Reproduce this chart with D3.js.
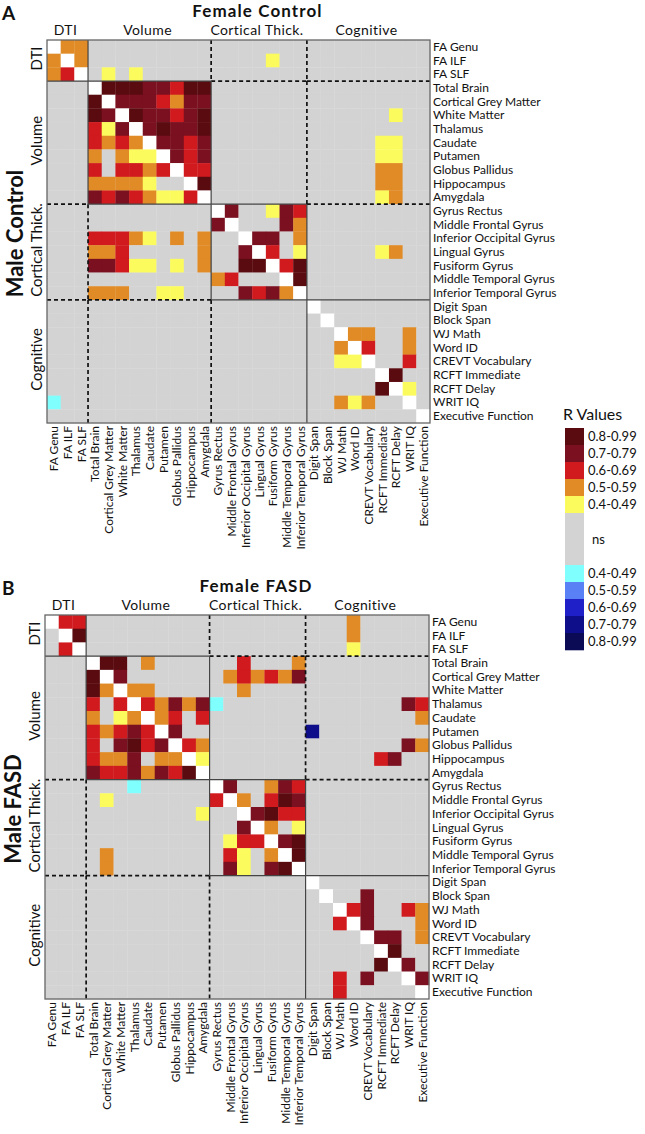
<!DOCTYPE html>
<html><head><meta charset="utf-8">
<script src="https://cdn.jsdelivr.net/npm/d3@7"></script>
<style>body{margin:0;background:#fff}text{font-family:Lato,"Open Sans",sans-serif;fill:#111}</style>
</head><body><svg id="c" width="645" height="1134"></svg>
<script>
const variables = ["FA Genu","FA ILF","FA SLF","Total Brain","Cortical Grey Matter","White Matter","Thalamus","Caudate","Putamen","Globus Pallidus","Hippocampus","Amygdala","Gyrus Rectus","Middle Frontal Gyrus","Inferior Occipital Gyrus","Lingual Gyrus","Fusiform Gyrus","Middle Temporal Gyrus","Inferior Temporal Gyrus","Digit Span","Block Span","WJ Math","Word ID","CREVT Vocabulary","RCFT Immediate","RCFT Delay","WRIT IQ","Executive Function"];
const groups = ["DTI","Volume","Cortical Thick.","Cognitive"];
const groupStarts = [0,3,12,19,28];
// codes: 9 = diagonal, 5..1 = positive R bins, 0 = ns, -1..-5 = negative R bins
const legendCodes = [5,4,3,2,1,0,-1,-2,-3,-4,-5];
const legendLabels = ["0.8-0.99","0.7-0.79","0.6-0.69","0.5-0.59","0.4-0.49","ns","0.4-0.49","0.5-0.59","0.6-0.69","0.7-0.79","0.8-0.99"];
// Panel A: upper triangle Female Control, lower triangle Male Control
const controlMatrix = [
[9,2,2,0,0,0,0,0,0,0,0,0,0,0,0,0,0,0,0,0,0,0,0,0,0,0,0,0],
[2,9,2,0,0,0,0,0,0,0,0,0,0,0,0,0,1,0,0,0,0,0,0,0,0,0,0,0],
[2,3,9,0,1,0,1,0,0,0,0,0,0,0,0,0,0,0,0,0,0,0,0,0,0,0,0,0],
[0,0,0,9,5,5,5,4,4,3,5,5,0,0,0,0,0,0,0,0,0,0,0,0,0,0,0,0],
[0,0,0,5,9,4,4,4,3,2,4,4,0,0,0,0,0,0,0,0,0,0,0,0,0,0,0,0],
[0,0,0,5,4,9,5,4,4,3,4,5,0,0,0,0,0,0,0,0,0,0,0,0,0,1,0,0],
[0,0,0,3,1,4,9,4,5,4,4,5,0,0,0,0,0,0,0,0,0,0,0,0,0,0,0,0],
[0,0,0,3,2,3,2,9,4,4,3,4,0,0,0,0,0,0,0,0,0,0,0,0,1,1,0,0],
[0,0,0,2,0,2,1,1,9,4,3,4,0,0,0,0,0,0,0,0,0,0,0,0,1,1,0,0],
[0,0,0,3,0,3,3,2,3,9,3,3,0,0,0,0,0,0,0,0,0,0,0,0,2,2,0,0],
[0,0,0,2,2,2,2,1,0,0,9,5,0,0,0,0,0,0,0,0,0,0,0,0,2,2,0,0],
[0,0,0,4,3,4,3,2,1,1,3,9,0,0,0,0,0,0,0,0,0,0,0,0,1,2,0,0],
[0,0,0,0,0,0,0,0,0,0,0,0,9,4,0,0,1,4,3,0,0,0,0,0,0,0,0,0],
[0,0,0,0,0,0,0,0,0,0,0,0,4,9,0,0,0,4,2,0,0,0,0,0,0,0,0,0],
[0,0,0,3,3,3,2,1,0,2,0,2,0,0,9,4,4,0,2,0,0,0,0,0,0,0,0,0],
[0,0,0,2,2,3,0,0,0,0,0,2,0,0,4,9,3,0,1,0,0,0,0,0,1,2,0,0],
[0,0,0,4,4,3,1,1,0,1,0,2,0,0,5,5,9,3,5,0,0,0,0,0,0,0,0,0],
[0,0,0,0,0,0,0,0,0,0,0,0,2,3,0,0,0,9,5,0,0,0,0,0,0,0,0,0],
[0,0,0,2,2,2,0,0,1,1,0,0,0,0,4,3,4,2,9,0,0,0,0,0,0,0,0,0],
[0,0,0,0,0,0,0,0,0,0,0,0,0,0,0,0,0,0,0,9,0,0,0,0,0,0,0,0],
[0,0,0,0,0,0,0,0,0,0,0,0,0,0,0,0,0,0,0,0,9,0,0,0,0,0,0,0],
[0,0,0,0,0,0,0,0,0,0,0,0,0,0,0,0,0,0,0,0,0,9,2,2,0,0,2,0],
[0,0,0,0,0,0,0,0,0,0,0,0,0,0,0,0,0,0,0,0,0,2,9,3,0,0,2,0],
[0,0,0,0,0,0,0,0,0,0,0,0,0,0,0,0,0,0,0,0,0,1,1,9,0,0,3,0],
[0,0,0,0,0,0,0,0,0,0,0,0,0,0,0,0,0,0,0,0,0,0,0,0,9,5,0,0],
[0,0,0,0,0,0,0,0,0,0,0,0,0,0,0,0,0,0,0,0,0,0,0,0,5,9,1,0],
[-1,0,0,0,0,0,0,0,0,0,0,0,0,0,0,0,0,0,0,0,0,2,1,2,0,0,9,0],
[0,0,0,0,0,0,0,0,0,0,0,0,0,0,0,0,0,0,0,0,0,0,0,0,0,0,0,9]
];
// Panel B: upper triangle Female FASD, lower triangle Male FASD
const fasdMatrix = [
[9,3,3,0,0,0,0,0,0,0,0,0,0,0,0,0,0,0,0,0,0,0,2,0,0,0,0,0],
[0,9,5,0,0,0,0,0,0,0,0,0,0,0,0,0,0,0,0,0,0,0,2,0,0,0,0,0],
[0,3,9,0,0,0,0,0,0,0,0,0,0,0,0,0,0,0,0,0,0,0,1,0,0,0,0,0],
[0,0,0,9,5,5,0,2,0,0,0,0,0,0,3,0,0,0,2,0,0,0,0,0,0,0,0,0],
[0,0,0,5,9,4,0,0,0,0,0,0,0,2,3,2,3,2,4,0,0,0,0,0,0,0,0,0],
[0,0,0,5,2,9,2,2,0,0,0,0,0,0,2,0,0,0,0,0,0,0,0,0,0,0,0,0],
[0,0,0,3,0,3,9,3,2,4,2,4,-1,0,0,0,0,0,0,0,0,0,0,0,0,0,4,3],
[0,0,0,2,0,1,2,9,2,3,0,3,0,0,0,0,0,0,0,0,0,0,0,0,0,0,0,2],
[0,0,0,3,2,3,4,3,9,4,0,0,0,0,0,0,0,0,0,-4,0,0,0,0,0,0,0,0],
[0,0,0,3,0,4,5,3,4,9,3,2,0,0,0,0,0,0,0,0,0,0,0,0,0,0,4,2],
[0,0,0,3,2,2,4,0,2,2,9,1,0,0,0,0,0,0,0,0,0,0,0,0,3,4,0,0],
[0,0,0,4,3,3,4,2,4,3,5,9,0,0,0,0,0,0,0,0,0,0,0,0,0,0,0,0],
[0,0,0,0,0,0,-1,0,0,0,0,0,9,4,0,0,2,4,3,0,0,0,0,0,0,0,0,0],
[0,0,0,0,1,0,0,0,0,0,0,0,3,9,2,0,3,5,4,0,0,0,0,0,0,0,0,0],
[0,0,0,0,0,0,0,0,0,0,0,1,0,0,9,4,5,3,3,0,0,0,0,0,0,0,0,0],
[0,0,0,0,0,0,0,0,0,0,0,0,0,0,4,9,2,0,1,0,0,0,0,0,0,0,0,0],
[0,0,0,0,0,0,0,0,0,0,0,0,0,1,3,3,9,4,5,0,0,0,0,0,0,0,0,0],
[0,0,0,0,2,0,0,0,0,0,0,0,0,3,1,0,2,9,5,0,0,0,0,0,0,0,0,0],
[0,0,0,0,2,0,0,0,0,0,0,0,0,4,1,0,4,5,9,0,0,0,0,0,0,0,0,0],
[0,0,0,0,0,0,0,0,0,0,0,0,0,0,0,0,0,0,0,9,0,0,0,0,0,0,0,0],
[0,0,0,0,0,0,0,0,0,0,0,0,0,0,0,0,0,0,0,0,9,0,0,4,0,0,0,0],
[0,0,0,0,0,0,0,0,0,0,0,0,0,0,0,0,0,0,0,0,0,9,3,4,0,0,3,2],
[0,0,0,0,0,0,0,0,0,0,0,0,0,0,0,0,0,0,0,0,0,3,9,4,0,0,0,2],
[0,0,0,0,0,0,0,0,0,0,0,0,0,0,0,0,0,0,0,0,0,0,0,9,4,4,0,2],
[0,0,0,0,0,0,0,0,0,0,0,0,0,0,0,0,0,0,0,0,0,0,0,0,9,5,0,0],
[0,0,0,0,0,0,0,0,0,0,0,0,0,0,0,0,0,0,0,0,0,0,0,0,5,9,4,0],
[0,0,0,0,0,0,0,0,0,0,0,0,0,0,0,0,0,0,0,0,0,3,0,4,0,0,9,4],
[0,0,0,0,0,0,0,0,0,0,0,0,0,0,0,0,0,0,0,0,0,3,0,0,0,0,0,9]
];

const color = d3.scaleOrdinal()
  .domain([9,5,4,3,2,1,0,-1,-2,-3,-4,-5])
  .range(["#ffffff","#5a0b10","#7a1020","#d01a1e","#e08b26","#fbfb5e","#d3d3d3","#80ffff","#5a80f5","#2020c8","#0e0e8a","#0a0a55"]);

const svg = d3.select("#c");

function panel(M, o){
  const g = svg.append("g");
  const x = d3.scaleBand().domain(variables).range([o.x0, o.x0+o.size]);
  const y = d3.scaleBand().domain(variables).range([o.y0, o.y0+o.size]);
  const cells = [];
  M.forEach((row,i)=>row.forEach((v,j)=>cells.push({i,j,v})));
  g.selectAll("rect.cell").data(cells).join("rect")
    .attr("x",d=>x(variables[d.j])).attr("y",d=>y(variables[d.i]))
    .attr("width",x.bandwidth()+0.3).attr("height",y.bandwidth()+0.3)
    .attr("fill",d=>color(d.v));
  const edge = k => k<28 ? x(variables[k]) : o.x0+o.size;
  const edgeY = k => k<28 ? y(variables[k]) : o.y0+o.size;
  // block separators
  for(let b=1;b<4;b++){
    for(let j=0;j<4;j++){
      const solid = (j===b-1||j===b);
      g.append("line")
        .attr("x1",edge(groupStarts[j])).attr("x2",edge(groupStarts[j+1]))
        .attr("y1",edgeY(groupStarts[b])).attr("y2",edgeY(groupStarts[b]))
        .attr("stroke",solid?"#444":"#111").attr("stroke-width",solid?1.2:1.7)
        .attr("stroke-dasharray",solid?null:"4,3");
      g.append("line")
        .attr("y1",edgeY(groupStarts[j])).attr("y2",edgeY(groupStarts[j+1]))
        .attr("x1",edge(groupStarts[b])).attr("x2",edge(groupStarts[b]))
        .attr("stroke",solid?"#444":"#111").attr("stroke-width",solid?1.2:1.7)
        .attr("stroke-dasharray",solid?null:"4,3");
    }
  }
  g.append("rect").attr("x",o.x0).attr("y",o.y0).attr("width",o.size).attr("height",o.size)
    .attr("fill","none").attr("stroke","#666").attr("stroke-width",1.3);
  // row labels
  g.selectAll("text.rl").data(variables).join("text")
    .attr("x",o.x0+o.size+3).attr("y",d=>y(d)+y.bandwidth()/2+4)
    .attr("font-size",12).text(d=>d);
  // column labels
  g.selectAll("text.cl").data(variables).join("text")
    .attr("transform",d=>`translate(${x(d)+x.bandwidth()/2+4.5},${o.y0+o.size+3}) rotate(-90)`)
    .attr("text-anchor","end").attr("font-size",12).text(d=>d);
  // group labels
  groups.forEach((gname,k)=>{
    const a = edge(groupStarts[k]), b = edge(groupStarts[k+1]);
    g.append("text").attr("x",(a+b)/2-2).attr("y",o.y0-5).attr("text-anchor","middle")
      .attr("font-size",14).attr("letter-spacing",0.4).text(gname);
    const ya = edgeY(groupStarts[k]), yb = edgeY(groupStarts[k+1]);
    g.append("text").attr("transform",`translate(${o.x0-5},${(ya+yb)/2-2}) rotate(-90)`)
      .attr("text-anchor","middle").attr("font-size",15).text(gname);
  });
  g.append("text").attr("x",o.x0+o.size/2+19).attr("y",o.y0-23).attr("text-anchor","middle")
    .attr("font-size",17).attr("letter-spacing",1.1).attr("font-weight","bold").text(o.title);
  g.append("text").attr("transform",`translate(${o.x0-24},${o.y0+o.size/2+2}) rotate(-90)`)
    .attr("text-anchor","middle").attr("font-size",22).attr("font-weight","bold").text(o.rowTitle);
  g.append("text").attr("x",2).attr("y",o.y0-20).attr("font-size",19).attr("font-weight","bold").text(o.letter);
}

panel(controlMatrix,{x0:47,y0:40,size:383,title:"Female Control",rowTitle:"Male Control",letter:"A"});
panel(fasdMatrix,{x0:45,y0:615,size:384,title:"Female FASD",rowTitle:"Male FASD",letter:"B"});

// legend
const lg = svg.append("g");
const heights = legendCodes.map(c=>c===0?52:17);
let yy = 428;
const ly = heights.map(h=>{const v=yy; yy+=h; return v;});
lg.append("text").attr("x",563).attr("y",420).attr("font-size",16).text("R Values");
lg.selectAll("rect").data(legendCodes).join("rect")
  .attr("x",565).attr("y",(d,i)=>ly[i]).attr("width",19).attr("height",(d,i)=>heights[i]+0.3)
  .attr("fill",d=>color(d));
lg.selectAll("text.ll").data(legendLabels).join("text")
  .attr("x",(d,i)=>legendCodes[i]===0?592:588).attr("y",(d,i)=>ly[i]+heights[i]/2+4.5)
  .attr("font-size",13).text(d=>d);
</script></body></html>
